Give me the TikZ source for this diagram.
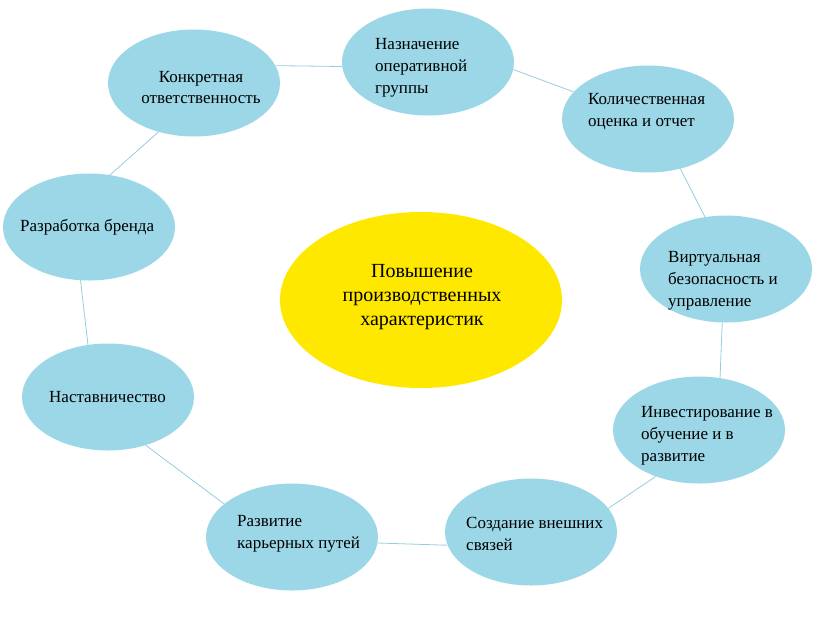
\documentclass[tikz,border=0pt]{standalone}
\usepackage{fontspec}
\setmainfont{Liberation Serif}
\usetikzlibrary{shapes.geometric}
\definecolor{bubble}{RGB}{155,215,231}
\definecolor{hub}{RGB}{255,232,0}
\definecolor{link}{RGB}{150,205,222}
\tikzset{
  bub/.style={ellipse, fill=bubble, inner sep=0pt, minimum width=172pt, minimum height=107pt},
  hubnode/.style={ellipse, fill=hub, inner sep=0pt, minimum width=282pt, minimum height=176pt},
  lbl/.style={inner sep=0pt, align=left, anchor=west, font=\fontsize{17}{22}\selectfont},
  clbl/.style={inner sep=0pt, align=center, font=\fontsize{17}{21}\selectfont},
  hublbl/.style={inner sep=0pt, align=center, font=\fontsize{20}{24}\selectfont},
  conn/.style={draw=link, line width=0.8pt}
}
\begin{document}
\begin{tikzpicture}[x=1pt,y=-1pt]
\useasboundingbox (0,0) rectangle (829,630);
\node[hubnode] (center) at (421,300) {};
\node[bub] (konk) at (194,83) {};
\node[bub] (nazn) at (428,62) {};
\node[bub] (kol) at (648,119) {};
\node[bub] (virt) at (726,269) {};
\node[bub] (inv) at (699,430) {};
\node[bub] (sozd) at (531,532) {};
\node[bub] (razv) at (292,537) {};
\node[bub] (nast) at (108,397) {};
\node[bub] (brend) at (89,227) {};
\node[hublbl] (t-center) at (422,297) {Повышение\\производственных\\характеристик};
\node[clbl] (t-konk) at (201,88) {Конкретная\\ответственность};
\node[lbl] (t-nazn) at (375,68) {Назначение\\оперативной\\группы};
\node[lbl] (t-kol) at (588,112) {Количественная\\оценка и отчет};
\node[lbl] (t-virt) at (668,281) {Виртуальная\\безопасность и\\управление};
\node[lbl] (t-inv) at (641,436) {Инвестирование в\\обучение и в\\развитие};
\node[lbl] (t-sozd) at (466,534) {Создание внешних\\связей};
\node[lbl] (t-razv) at (237,534) {Развитие\\карьерных путей};
\node[lbl] (t-nast) at (49,397) {Наставничество};
\node[lbl] (t-brend) at (20,227) {Разработка бренда};
\draw[conn] (konk.12) -- (nazn.183);
\draw[conn] (nazn.-5) -- (kol.160);
\draw[conn] (kol.-57) -- (virt.112);
\draw[conn] (virt.-94) -- (inv.68);
\draw[conn] (inv.-133) -- (sozd.17);
\draw[conn] (sozd.189) -- (razv.-4);
\draw[conn] (razv.154) -- (nast.-52);
\draw[conn] (nast.111) -- (brend.-99);
\draw[conn] (brend.68) -- (konk.-126);
\end{tikzpicture}
\end{document}
